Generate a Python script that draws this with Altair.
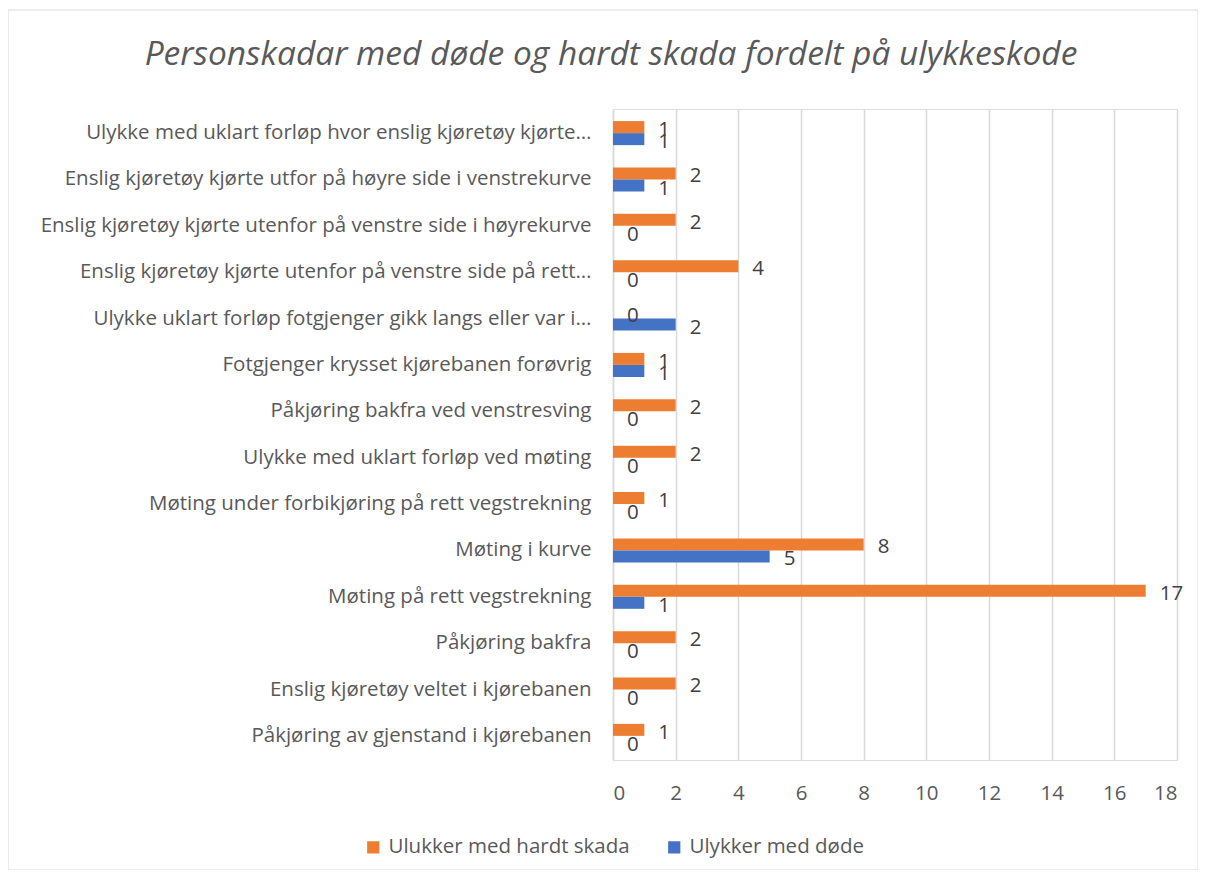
import altair as alt
import pandas as pd

categories = [
    "Ulykke med uklart forløp hvor enslig kjøretøy kjørte…",
    "Enslig kjøretøy kjørte utfor på høyre side i venstrekurve",
    "Enslig kjøretøy kjørte utenfor på venstre side i høyrekurve",
    "Enslig kjøretøy kjørte utenfor på venstre side på rett…",
    "Ulykke uklart forløp fotgjenger gikk langs eller var i…",
    "Fotgjenger krysset kjørebanen forøvrig",
    "Påkjøring bakfra ved venstresving",
    "Ulykke med uklart forløp ved møting",
    "Møting under forbikjøring på rett vegstrekning",
    "Møting i kurve",
    "Møting på rett vegstrekning",
    "Påkjøring bakfra",
    "Enslig kjøretøy veltet i kjørebanen",
    "Påkjøring av gjenstand i kjørebanen",
]
hardt_skada = [1, 2, 2, 4, 0, 1, 2, 2, 1, 8, 17, 2, 2, 1]
dode = [1, 1, 0, 0, 2, 1, 0, 0, 0, 5, 1, 0, 0, 0]
series = ["Ulukker med hardt skada", "Ulykker med døde"]
colors = ["#ED7D31", "#4472C4"]

rows = []
for c, h, d in zip(categories, hardt_skada, dode):
    rows.append({"cat": c, "serie": series[0], "val": h})
    rows.append({"cat": c, "serie": series[1], "val": d})
df = pd.DataFrame(rows)

FONT = "Open Sans"
GREY = "#595959"
FS = 20.5

y_enc = alt.Y("cat:N", sort=categories,
              scale=alt.Scale(paddingInner=0.48, paddingOuter=0.26),
              axis=alt.Axis(title=None, labelFontSize=FS, labelColor=GREY, labelFont=FONT,
                            labelPadding=22, labelLimit=700, ticks=False,
                            domain=True, domainColor="#d9d9d9", domainWidth=1.5))
x_enc = alt.X("val:Q", scale=alt.Scale(domain=[0, 18]),
              axis=alt.Axis(title=None, values=list(range(0, 19, 2)), labelFontSize=FS,
                            labelColor=GREY, labelFont=FONT, labelPadding=23, ticks=False,
                            domain=False, grid=True, gridColor="#d9d9d9", gridWidth=1.5))
yoff = alt.YOffset("serie:N", sort=series)
col = alt.Color("serie:N", scale=alt.Scale(domain=series, range=colors),
                legend=alt.Legend(title=None, orient="none", direction="horizontal",
                                  legendX=-250, legendY=728, symbolType="square",
                                  symbolSize=150, symbolStrokeWidth=0, symbolOpacity=1,
                                  labelFontSize=FS, labelColor=GREY, labelFont=FONT,
                                  labelLimit=400, columnPadding=34, labelOffset=5))

bars = alt.Chart(df).mark_bar(size=12, opacity=1).encode(x=x_enc, y=y_enc, yOffset=yoff, color=col)
labels = alt.Chart(df).mark_text(align="left", baseline="middle", dx=14, dy=3,
                                 fontSize=FS, font=FONT, color="#404040").encode(
    x="val:Q", y=alt.Y("cat:N", sort=categories), yOffset=yoff, text="val:Q")

frame = alt.Chart(pd.DataFrame({"a": [0]})).mark_rect(
    fill=None, stroke="#d9d9d9", strokeWidth=1).encode(
    x=alt.value(-605), x2=alt.value(585), y=alt.value(-99), y2=alt.value(761))

chart = alt.layer(frame, bars, labels).properties(
    width=564, height=651,
    autosize=alt.AutoSizeParams(type="none"),
    padding={"left": 605, "top": 101, "right": 21, "bottom": 110},
    title=alt.TitleParams("Personskadar med døde og hardt skada fordelt på ulykkeskode",
                          fontSize=33.5, font=FONT, fontStyle="italic", fontWeight="normal",
                          color=GREY, anchor="middle", frame="group", dx=-284, offset=-63),
).configure_view(stroke=None).configure(background="white")

chart.save("out.html", embed_options={"renderer": "svg", "actions": False})
